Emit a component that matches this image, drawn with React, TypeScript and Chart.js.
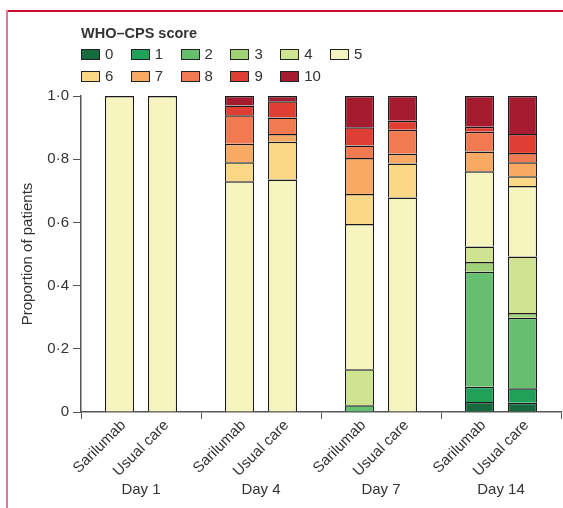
import React, { useEffect, useRef } from "react";
import { Chart, registerables } from "chart.js";

Chart.register(...registerables);

const days = ["Day 1", "Day 4", "Day 7", "Day 14"];
const arms = ["Sarilumab", "Usual care"];
const scores = ["0", "1", "2", "3", "4", "5", "6", "7", "8", "9", "10"];
const scoreColors = [
  "#176a3d", "#21a05a", "#66bf6e", "#a2d277", "#cfe391", "#f6f4bf",
  "#fcd886", "#f8a963", "#f27a50", "#df3f33", "#a51c30",
];

// proportions per WHO-CPS score (0..10)
const sarilumabDay1 = [0, 0, 0, 0, 0, 1.0, 0, 0, 0, 0, 0];
const usualCareDay1 = [0, 0, 0, 0, 0, 1.0, 0, 0, 0, 0, 0];
const sarilumabDay4 = [0, 0, 0, 0, 0, 0.73, 0.06, 0.059, 0.09, 0.031, 0.03];
const usualCareDay4 = [0, 0, 0, 0, 0, 0.736, 0.119, 0.025, 0.052, 0.051, 0.017];
const sarilumabDay7 = [0, 0, 0.021, 0, 0.114, 0.46, 0.095, 0.114, 0.039, 0.058, 0.099];
const usualCareDay7 = [0, 0, 0, 0, 0, 0.679, 0.107, 0.031, 0.076, 0.029, 0.078];
const sarilumabDay14 = [0.032, 0.048, 0.364, 0.031, 0.049, 0.238, 0, 0.062, 0.063, 0.016, 0.097];
const usualCareDay14 = [0.029, 0.046, 0.223, 0.015, 0.179, 0.223, 0.031, 0.044, 0.03, 0.06, 0.12];

const yTicks = [0, 0.2, 0.4, 0.6, 0.8, 1.0];

const sarilumabByDay = [sarilumabDay1, sarilumabDay4, sarilumabDay7, sarilumabDay14];
const usualCareByDay = [usualCareDay1, usualCareDay4, usualCareDay7, usualCareDay14];

const FONT = "'Liberation Sans', Arial, sans-serif";
const TEXT = "#333";
const AXIS = "#555";

const armLabelPlugin = {
  id: "armLabels",
  afterDraw(chart: any) {
    const ctx = chart.ctx;
    const y = chart.chartArea.bottom + 11;
    ctx.save();
    ctx.font = `15px ${FONT}`;
    ctx.fillStyle = TEXT;
    ctx.textAlign = "right";
    ctx.textBaseline = "middle";
    [10, 11].forEach((dsIndex, armIdx) => {
      const meta = chart.getDatasetMeta(dsIndex);
      meta.data.forEach((bar: any) => {
        ctx.save();
        ctx.translate(bar.x + 4, y);
        ctx.rotate(-Math.PI / 4);
        ctx.fillText(arms[armIdx], 0, 0);
        ctx.restore();
      });
    });
    ctx.restore();
  },
};

export default function App() {
  const ref = useRef<HTMLCanvasElement>(null);
  useEffect(() => {
    if (!ref.current) return;
    const datasets: any[] = [];
    const barStyle = {
      borderColor: "#1a1a1a",
      borderWidth: { top: 1.5, left: 1.2, right: 1.2, bottom: 0 },
      borderSkipped: false,
    };
    scores.forEach((s, i) => {
      datasets.push({
        label: s,
        stack: "S",
        data: sarilumabByDay.map((d) => (d[i] === 0 ? null : d[i])),
        backgroundColor: scoreColors[i],
        ...barStyle,
      });
      datasets.push({
        label: s,
        stack: "U",
        data: usualCareByDay.map((d) => (d[i] === 0 ? null : d[i])),
        backgroundColor: scoreColors[i],
        ...barStyle,
      });
    });
    const chart = new Chart(ref.current, {
      type: "bar",
      data: { labels: days, datasets },
      options: {
        animation: false,
        responsive: false,
        maintainAspectRatio: false,
        categoryPercentage: 0.717,
        barPercentage: 0.674,
        layout: { padding: { top: 96, right: 2, bottom: 0, left: 0 } },
        plugins: { legend: { display: false }, tooltip: { enabled: false } },
        scales: {
          x: {
            stacked: true,
            offset: true,
            afterFit: (s: any) => {
              s.height = 96;
              s.paddingLeft = 0;
              s.paddingRight = 0;
            },
            grid: {
              display: true,
              offset: true,
              drawOnChartArea: false,
              drawTicks: true,
              tickLength: 7,
              color: AXIS,
            },
            border: { color: AXIS, width: 1.5 },
            ticks: {
              color: TEXT,
              font: { family: FONT, size: 15 },
              padding: 62,
              maxRotation: 0,
              autoSkip: false,
            },
          },
          y: {
            stacked: true,
            min: 0,
            max: 1,
            afterFit: (s: any) => {
              s.width = 81;
              s.paddingTop = 0;
              s.paddingBottom = 0;
            },
            afterBuildTicks: (s: any) => { s.ticks = yTicks.map((v) => ({ value: v })); },
            grid: {
              drawOnChartArea: false,
              drawTicks: true,
              tickLength: 8,
              color: AXIS,
            },
            border: { color: AXIS, width: 1.5 },
            ticks: {
              color: TEXT,
              font: { family: FONT, size: 15 },
              padding: 4,
              callback: (v: any) => (v === 0 ? "0" : Number(v).toFixed(1).replace(".", "·")),
            },
            title: {
              display: true,
              text: "Proportion of patients",
              color: TEXT,
              font: { family: FONT, size: 15 },
              padding: { top: 19, bottom: 0 },
            },
          },
        },
      },
      plugins: [armLabelPlugin],
    });
    return () => chart.destroy();
  }, []);

  return (
    <div style={{ position: "absolute", left: 0, top: 0, width: 563, height: 508, background: "#fff", fontFamily: FONT }}>
      <div style={{ position: "absolute", left: 6, top: 10, width: 557, height: 1.5, background: "#c8102e" }} />
      <div style={{ position: "absolute", left: 6, top: 10, width: 2, height: 498, background: "#e0779a" }} />
      <canvas ref={ref} width={563} height={508} style={{ position: "absolute", left: 0, top: 0, width: 563, height: 508 }} />
      <div style={{ position: "absolute", left: 81, top: 24, fontSize: 14.5, fontWeight: "bold", color: TEXT, whiteSpace: "nowrap", lineHeight: "18px" }}>
        WHO–CPS score
      </div>
      {scores.map((s, i) => {
        const col = i % 6;
        const row = Math.floor(i / 6);
        return (
          <div key={s} style={{ position: "absolute", left: 81 + col * 49.8, top: 45 + row * 22, height: 18, display: "flex", alignItems: "center", whiteSpace: "nowrap" }}>
            <span style={{ display: "inline-block", width: 17, height: 9, background: scoreColors[i], border: "1px solid #222" }} />
            <span style={{ marginLeft: 5, fontSize: 15, color: TEXT, lineHeight: "18px" }}>{s}</span>
          </div>
        );
      })}
    </div>
  );
}
